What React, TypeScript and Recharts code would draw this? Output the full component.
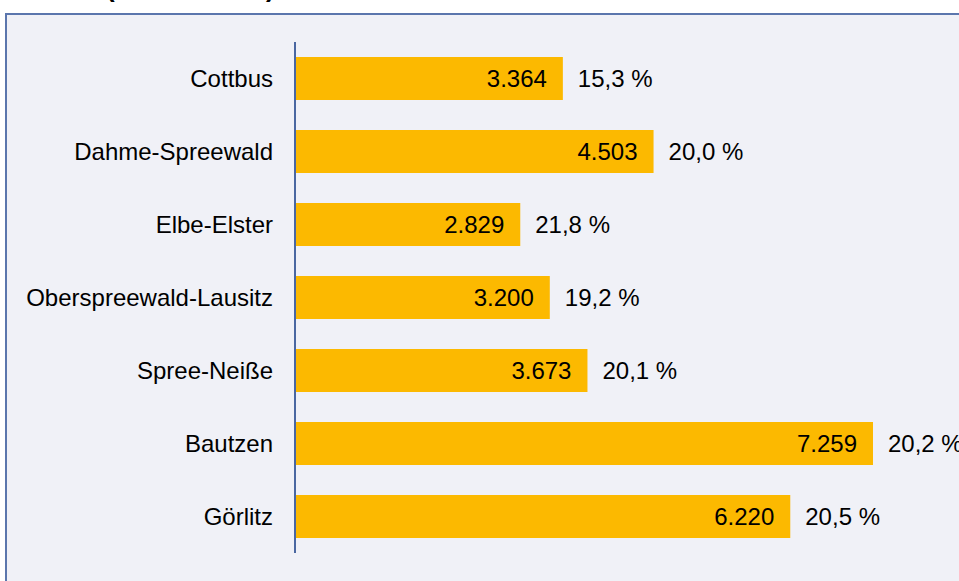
import { Bar, BarChart, LabelList, XAxis, YAxis } from "recharts";

const districts = ["Cottbus", "Dahme-Spreewald", "Elbe-Elster", "Oberspreewald-Lausitz", "Spree-Neiße", "Bautzen", "Görlitz"];
const counts = [3364, 4503, 2829, 3200, 3673, 7259, 6220];
const shares = [15.3, 20.0, 21.8, 19.2, 20.1, 20.2, 20.5];

const rows = districts.map((name, i) => ({ name, count: counts[i], share: shares[i] }));

const font = "'Liberation Sans', Arial, sans-serif";

const fmtCount = (v: number) => v.toLocaleString("de-DE");
const fmtShare = (v: number) => `${v.toLocaleString("de-DE", { minimumFractionDigits: 1, maximumFractionDigits: 1 })} %`;

export default function App() {
  return (
    <div style={{ position: "absolute", left: 0, top: 0, width: 959, height: 581, overflow: "hidden", background: "#ffffff", fontFamily: font }}>
      <span style={{ position: "absolute", left: 106, top: -27, fontSize: 26, fontWeight: 700, color: "#000" }}>(</span>
      <span style={{ position: "absolute", left: 266, top: -27, fontSize: 26, fontWeight: 700, color: "#000" }}>)</span>
      <div
        style={{
          position: "absolute",
          left: 5,
          top: 13,
          width: 1000,
          height: 620,
          border: "2px solid #5b76ad",
          background: "#f0f1f7",
          boxSizing: "border-box"
        }}
      />
      <div style={{ position: "absolute", left: 0, top: 0 }}>
        <BarChart width={959} height={581} data={rows} layout="vertical" margin={{ top: 42, right: 27, bottom: 28, left: 0 }} barSize={43}>
          <XAxis type="number" domain={[0, 8000]} hide />
          <YAxis
            type="category"
            dataKey="name"
            width={295}
            tickLine={false}
            tickSize={0}
            tickMargin={22}
            axisLine={{ stroke: "#4a67a1", strokeWidth: 2 }}
            tick={{ fontSize: 24, fill: "#000", fontFamily: font }}
          />
          <Bar dataKey="count" fill="#fcb900" isAnimationActive={false}>
            <LabelList dataKey="count" position="insideRight" offset={16} formatter={(v: any) => fmtCount(Number(v))} style={{ fontSize: 24, fill: "#000", fontFamily: font }} />
            <LabelList dataKey="share" position="right" offset={15} formatter={(v: any) => fmtShare(Number(v))} style={{ fontSize: 24, fill: "#000", fontFamily: font }} />
          </Bar>
        </BarChart>
      </div>
    </div>
  );
}
